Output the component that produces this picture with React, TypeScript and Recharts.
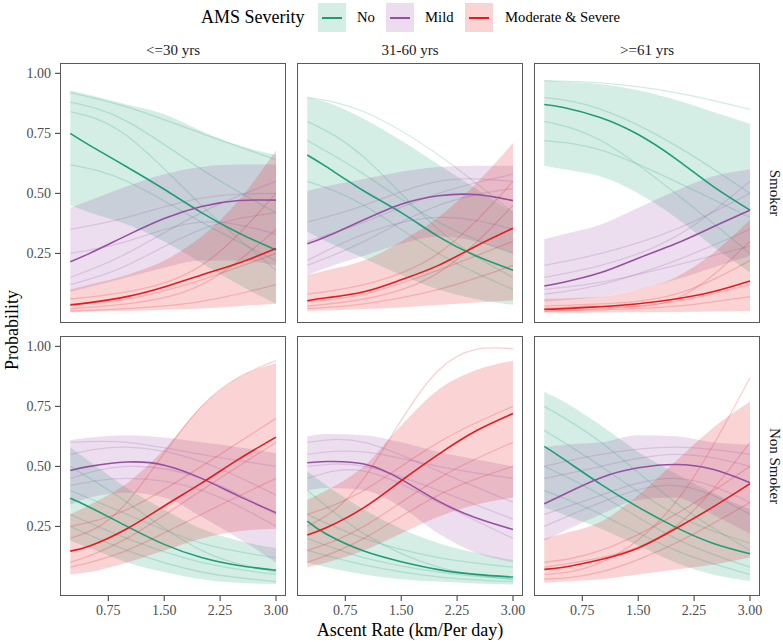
import { ComposedChart, Area, Line, XAxis, YAxis } from "recharts";

const FONT = "'Liberation Serif', 'Times New Roman', serif";

// x grid of the fitted curves; draws are read at every second point
const ascentRates = [0.24, 0.5, 1.0, 1.5, 2.0, 2.5, 3.0];
const drawRates = [0.24, 1.0, 2.0, 3.0];
const xTicks = [0.75, 1.5, 2.25, 3.0];
const yTicks = [0.25, 0.5, 0.75, 1.0];
const ageGroups = ["<=30 yrs", "31-60 yrs", ">=61 yrs"];
const smokingGroups = ["Smoker", "Non Smoker"];
const severityLabels = ["No", "Mild", "Moderate & Severe"];

// Smoker, <=30 yrs
const s30No = [0.75, 0.7, 0.61, 0.517, 0.42, 0.335, 0.264];
const s30NoLo = [0.45, 0.42, 0.37, 0.3, 0.21, 0.12, 0.04];
const s30NoHi = [0.93, 0.91, 0.87, 0.83, 0.76, 0.7, 0.66];
const s30Mild = [0.215, 0.25, 0.325, 0.395, 0.445, 0.47, 0.472];
const s30MildLo = [0.09, 0.11, 0.15, 0.19, 0.22, 0.22, 0.2];
const s30MildHi = [0.44, 0.47, 0.53, 0.58, 0.61, 0.62, 0.62];
const s30Mod = [0.035, 0.045, 0.07, 0.11, 0.16, 0.21, 0.27];
const s30ModLo = [0.005, 0.007, 0.01, 0.015, 0.02, 0.03, 0.04];
const s30ModHi = [0.1, 0.12, 0.16, 0.22, 0.32, 0.47, 0.68];
const s30NoDraws = [[0.92, 0.86, 0.75, 0.64], [0.84, 0.74, 0.45, 0.18], [0.62, 0.55, 0.38, 0.22], [0.88, 0.8, 0.6, 0.42]];
const s30MildDraws = [[0.15, 0.25, 0.42, 0.55], [0.35, 0.4, 0.48, 0.5], [0.12, 0.2, 0.35, 0.42], [0.25, 0.3, 0.38, 0.33]];
const s30ModDraws = [[0.02, 0.04, 0.12, 0.35], [0.06, 0.09, 0.2, 0.5], [0.01, 0.02, 0.05, 0.12], [0.04, 0.06, 0.14, 0.25]];

// Smoker, 31-60 yrs
const s60No = [0.66, 0.61, 0.51, 0.42, 0.32, 0.24, 0.18];
const s60NoLo = [0.34, 0.3, 0.23, 0.16, 0.1, 0.06, 0.035];
const s60NoHi = [0.9, 0.88, 0.81, 0.72, 0.62, 0.52, 0.42];
const s60Mild = [0.29, 0.32, 0.39, 0.455, 0.49, 0.495, 0.47];
const s60MildLo = [0.16, 0.19, 0.24, 0.29, 0.32, 0.3, 0.25];
const s60MildHi = [0.51, 0.53, 0.56, 0.59, 0.61, 0.615, 0.615];
const s60Mod = [0.053, 0.065, 0.09, 0.14, 0.2, 0.28, 0.355];
const s60ModLo = [0.01, 0.012, 0.018, 0.025, 0.035, 0.045, 0.055];
const s60ModHi = [0.16, 0.18, 0.22, 0.3, 0.4, 0.54, 0.71];
const s60NoDraws = [[0.9, 0.84, 0.66, 0.42], [0.8, 0.65, 0.35, 0.15], [0.55, 0.45, 0.25, 0.1], [0.72, 0.58, 0.38, 0.25]];
const s60MildDraws = [[0.2, 0.3, 0.45, 0.52], [0.38, 0.45, 0.55, 0.55], [0.22, 0.33, 0.4, 0.35], [0.3, 0.38, 0.5, 0.58]];
const s60ModDraws = [[0.03, 0.06, 0.17, 0.45], [0.08, 0.12, 0.25, 0.55], [0.02, 0.04, 0.1, 0.2], [0.05, 0.08, 0.18, 0.3]];

// Smoker, >=61 yrs
const s61No = [0.87, 0.858, 0.815, 0.745, 0.645, 0.53, 0.43];
const s61NoLo = [0.615, 0.6, 0.57, 0.5, 0.4, 0.28, 0.17];
const s61NoHi = [0.97, 0.965, 0.955, 0.93, 0.89, 0.84, 0.79];
const s61Mild = [0.114, 0.13, 0.17, 0.23, 0.29, 0.36, 0.43];
const s61MildLo = [0.05, 0.055, 0.07, 0.1, 0.14, 0.19, 0.24];
const s61MildHi = [0.31, 0.33, 0.37, 0.44, 0.51, 0.57, 0.6];
const s61Mod = [0.017, 0.02, 0.028, 0.04, 0.06, 0.09, 0.135];
const s61ModLo = [0.003, 0.003, 0.004, 0.005, 0.006, 0.008, 0.01];
const s61ModHi = [0.06, 0.062, 0.07, 0.1, 0.15, 0.25, 0.39];
const s61NoDraws = [[0.97, 0.96, 0.92, 0.85], [0.9, 0.85, 0.7, 0.5], [0.8, 0.72, 0.5, 0.25], [0.72, 0.68, 0.55, 0.4]];
const s61MildDraws = [[0.2, 0.25, 0.35, 0.5], [0.08, 0.12, 0.22, 0.35], [0.15, 0.2, 0.32, 0.55], [0.1, 0.13, 0.2, 0.28]];
const s61ModDraws = [[0.01, 0.02, 0.05, 0.12], [0.03, 0.04, 0.08, 0.22], [0.02, 0.03, 0.06, 0.3], [0.01, 0.015, 0.03, 0.07]];

// Non Smoker, <=30 yrs
const n30No = [0.367, 0.33, 0.25, 0.175, 0.12, 0.087, 0.067];
const n30NoLo = [0.19, 0.16, 0.1, 0.06, 0.03, 0.015, 0.01];
const n30NoHi = [0.58, 0.52, 0.41, 0.32, 0.24, 0.19, 0.16];
const n30Mild = [0.483, 0.5, 0.518, 0.505, 0.45, 0.376, 0.307];
const n30MildLo = [0.34, 0.37, 0.39, 0.37, 0.29, 0.2, 0.1];
const n30MildHi = [0.61, 0.62, 0.63, 0.62, 0.6, 0.58, 0.555];
const n30Mod = [0.147, 0.168, 0.24, 0.335, 0.43, 0.53, 0.622];
const n30ModLo = [0.05, 0.06, 0.1, 0.15, 0.2, 0.23, 0.24];
const n30ModHi = [0.3, 0.34, 0.43, 0.57, 0.75, 0.87, 0.93];
const n30NoDraws = [[0.5, 0.35, 0.15, 0.06], [0.3, 0.2, 0.1, 0.05], [0.4, 0.3, 0.18, 0.12], [0.25, 0.15, 0.06, 0.02]];
const n30MildDraws = [[0.55, 0.58, 0.52, 0.38], [0.42, 0.45, 0.4, 0.25], [0.6, 0.6, 0.55, 0.5], [0.45, 0.5, 0.45, 0.3]];
const n30ModDraws = [[0.2, 0.35, 0.75, 0.94], [0.1, 0.2, 0.4, 0.6], [0.25, 0.32, 0.5, 0.7], [0.08, 0.15, 0.3, 0.45]];

// Non Smoker, 31-60 yrs
const n60No = [0.272, 0.217, 0.147, 0.103, 0.07, 0.05, 0.039];
const n60NoLo = [0.1, 0.08, 0.05, 0.03, 0.02, 0.012, 0.008];
const n60NoHi = [0.48, 0.42, 0.32, 0.24, 0.18, 0.14, 0.11];
const n60Mild = [0.515, 0.52, 0.51, 0.446, 0.355, 0.286, 0.237];
const n60MildLo = [0.4, 0.41, 0.4, 0.33, 0.22, 0.14, 0.1];
const n60MildHi = [0.625, 0.635, 0.63, 0.6, 0.56, 0.53, 0.5];
const n60Mod = [0.214, 0.245, 0.328, 0.44, 0.55, 0.647, 0.72];
const n60ModLo = [0.08, 0.1, 0.15, 0.22, 0.29, 0.34, 0.37];
const n60ModHi = [0.36, 0.4, 0.5, 0.67, 0.82, 0.9, 0.94];
const n60NoDraws = [[0.4, 0.22, 0.08, 0.03], [0.2, 0.12, 0.06, 0.03], [0.3, 0.2, 0.12, 0.08], [0.15, 0.09, 0.04, 0.02]];
const n60MildDraws = [[0.6, 0.6, 0.48, 0.35], [0.45, 0.48, 0.35, 0.2], [0.55, 0.56, 0.5, 0.45], [0.5, 0.5, 0.4, 0.28]];
const n60ModDraws = [[0.25, 0.45, 0.9, 0.99], [0.15, 0.25, 0.45, 0.6], [0.3, 0.4, 0.6, 0.75], [0.1, 0.2, 0.38, 0.5]];

// Non Smoker, >=61 yrs
const n61No = [0.583, 0.53, 0.425, 0.33, 0.247, 0.18, 0.136];
const n61NoLo = [0.33, 0.3, 0.24, 0.17, 0.1, 0.05, 0.022];
const n61NoHi = [0.81, 0.77, 0.67, 0.56, 0.47, 0.39, 0.32];
const n61Mild = [0.344, 0.383, 0.453, 0.494, 0.508, 0.488, 0.432];
const n61MildLo = [0.19, 0.23, 0.3, 0.36, 0.37, 0.3, 0.22];
const n61MildHi = [0.58, 0.59, 0.6, 0.63, 0.625, 0.6, 0.59];
const n61Mod = [0.071, 0.08, 0.112, 0.16, 0.24, 0.33, 0.428];
const n61ModLo = [0.015, 0.02, 0.03, 0.05, 0.07, 0.09, 0.12];
const n61ModHi = [0.2, 0.22, 0.27, 0.38, 0.52, 0.66, 0.77];
const n61NoDraws = [[0.75, 0.6, 0.35, 0.15], [0.5, 0.38, 0.2, 0.08], [0.65, 0.5, 0.3, 0.18], [0.4, 0.3, 0.15, 0.05]];
const n61MildDraws = [[0.45, 0.5, 0.55, 0.5], [0.3, 0.38, 0.45, 0.35], [0.5, 0.55, 0.58, 0.55], [0.25, 0.35, 0.42, 0.3]];
const n61ModDraws = [[0.05, 0.1, 0.35, 0.87], [0.1, 0.15, 0.3, 0.5], [0.03, 0.06, 0.18, 0.35], [0.08, 0.12, 0.25, 0.6]];

const COLORS = ["#1B9E77", "#984EA3", "#E41A1C"];
const BAND_OPACITY = 0.19;

const PANEL_LEFT = [60, 297, 534];
const PANEL_TOP = [63, 336];
const PANEL_W = 226;
const PANEL_H = 260;
const Y_AXIS_W = 53;
const X_AXIS_H = 30;
const RIGHT_PAD = 16;
const X_DOMAIN = [0.102, 3.134];
const Y_DOMAIN = [-0.04, 1.043];

type Series = { mid: number[]; lo: number[]; hi: number[]; draws: number[][] };

const panels: { row: number; col: number; series: Series[] }[] = [
  { row: 0, col: 0, series: [
    { mid: s30No, lo: s30NoLo, hi: s30NoHi, draws: s30NoDraws },
    { mid: s30Mild, lo: s30MildLo, hi: s30MildHi, draws: s30MildDraws },
    { mid: s30Mod, lo: s30ModLo, hi: s30ModHi, draws: s30ModDraws },
  ] },
  { row: 0, col: 1, series: [
    { mid: s60No, lo: s60NoLo, hi: s60NoHi, draws: s60NoDraws },
    { mid: s60Mild, lo: s60MildLo, hi: s60MildHi, draws: s60MildDraws },
    { mid: s60Mod, lo: s60ModLo, hi: s60ModHi, draws: s60ModDraws },
  ] },
  { row: 0, col: 2, series: [
    { mid: s61No, lo: s61NoLo, hi: s61NoHi, draws: s61NoDraws },
    { mid: s61Mild, lo: s61MildLo, hi: s61MildHi, draws: s61MildDraws },
    { mid: s61Mod, lo: s61ModLo, hi: s61ModHi, draws: s61ModDraws },
  ] },
  { row: 1, col: 0, series: [
    { mid: n30No, lo: n30NoLo, hi: n30NoHi, draws: n30NoDraws },
    { mid: n30Mild, lo: n30MildLo, hi: n30MildHi, draws: n30MildDraws },
    { mid: n30Mod, lo: n30ModLo, hi: n30ModHi, draws: n30ModDraws },
  ] },
  { row: 1, col: 1, series: [
    { mid: n60No, lo: n60NoLo, hi: n60NoHi, draws: n60NoDraws },
    { mid: n60Mild, lo: n60MildLo, hi: n60MildHi, draws: n60MildDraws },
    { mid: n60Mod, lo: n60ModLo, hi: n60ModHi, draws: n60ModDraws },
  ] },
  { row: 1, col: 2, series: [
    { mid: n61No, lo: n61NoLo, hi: n61NoHi, draws: n61NoDraws },
    { mid: n61Mild, lo: n61MildLo, hi: n61MildHi, draws: n61MildDraws },
    { mid: n61Mod, lo: n61ModLo, hi: n61ModHi, draws: n61ModDraws },
  ] },
];

function buildRows(series: Series[]) {
  return ascentRates.map((x, i) => {
    const row: any = { x };
    series.forEach((s, k) => {
      row[`mid${k}`] = s.mid[i];
      row[`band${k}`] = [s.lo[i], s.hi[i]];
      const j = drawRates.indexOf(x);
      s.draws.forEach((d, m) => {
        row[`draw${k}_${m}`] = j >= 0 ? d[j] : null;
      });
    });
    return row;
  });
}

const XTick = (props: any) => (
  <text x={props.x} y={props.y} dy={12} textAnchor="middle" fill="#4d4d4d" style={{ fontFamily: FONT, fontSize: 14 }}>
    {Number(props.payload.value).toFixed(2)}
  </text>
);

const YTick = (props: any) => (
  <text x={props.x} y={props.y} dy={5} textAnchor="end" fill="#4d4d4d" style={{ fontFamily: FONT, fontSize: 14 }}>
    {Number(props.payload.value).toFixed(2)}
  </text>
);

function Panel({ row, col, series }: { row: number; col: number; series: Series[] }) {
  const showY = col === 0;
  const showX = row === 1;
  const data = buildRows(series);
  const left = PANEL_LEFT[col] - (showY ? Y_AXIS_W : 0);
  return (
    <>
      <div style={{ position: "absolute", left, top: PANEL_TOP[row], fontFamily: FONT }}>
        <ComposedChart
          width={PANEL_W + (showY ? Y_AXIS_W : 0) + RIGHT_PAD}
          height={PANEL_H + (showX ? X_AXIS_H : 0)}
          data={data}
          margin={{ top: 0, right: RIGHT_PAD, bottom: 0, left: 0 }}
        >
          <XAxis
            type="number"
            dataKey="x"
            domain={X_DOMAIN}
            ticks={xTicks}
            interval={0}
            allowDataOverflow
            hide={!showX}
            height={X_AXIS_H}
            tickSize={5}
            axisLine={false}
            tickLine={{ stroke: "#333" }}
            tick={XTick}
          />
          <YAxis
            type="number"
            domain={Y_DOMAIN}
            ticks={yTicks}
            interval={0}
            allowDataOverflow
            hide={!showY}
            width={Y_AXIS_W}
            tickSize={5}
            tickMargin={4}
            axisLine={false}
            tickLine={{ stroke: "#333" }}
            tick={YTick}
          />
          {series.map((_, k) => (
            <Area
              key={`band${k}`}
              dataKey={`band${k}`}
              type="monotone"
              fill={COLORS[k]}
              fillOpacity={BAND_OPACITY}
              stroke="none"
              activeDot={false}
              isAnimationActive={false}
            />
          ))}
          {series.map((s, k) =>
            s.draws.map((_, m) => (
              <Line
                key={`draw${k}_${m}`}
                dataKey={`draw${k}_${m}`}
                type="natural"
                connectNulls
                stroke={COLORS[k]}
                strokeOpacity={0.2}
                strokeWidth={1.3}
                dot={false}
                activeDot={false}
                isAnimationActive={false}
              />
            ))
          )}
          {series.map((_, k) => (
            <Line
              key={`mid${k}`}
              dataKey={`mid${k}`}
              type="natural"
              stroke={COLORS[k]}
              strokeWidth={1.6}
              dot={false}
              activeDot={false}
              isAnimationActive={false}
            />
          ))}
        </ComposedChart>
      </div>
      <div
        style={{
          position: "absolute",
          left: PANEL_LEFT[col],
          top: PANEL_TOP[row],
          width: PANEL_W,
          height: PANEL_H,
          border: "1px solid #5a5a5a",
          boxSizing: "border-box",
          pointerEvents: "none",
        }}
      />
    </>
  );
}

function LegendKey({ left, color }: { left: number; color: string }) {
  return (
    <div style={{ position: "absolute", left, top: 3, width: 28, height: 29, background: color }}>
      <div style={{ position: "absolute", inset: 0, background: "white", opacity: 1 - BAND_OPACITY }} />
      <div style={{ position: "absolute", left: 4, top: 13.5, width: 20, height: 2, background: color }} />
    </div>
  );
}

export default function App() {
  const text = (s: any) => ({ position: "absolute" as const, fontFamily: FONT, whiteSpace: "nowrap" as const, ...s });
  return (
    <div style={{ position: "absolute", left: 0, top: 0, width: 783, height: 643, background: "white", overflow: "hidden", fontFamily: FONT }}>
      {/* legend */}
      <div style={text({ left: 201, top: 5, fontSize: 18, lineHeight: "24px", color: "#000" })}>AMS Severity</div>
      {[318, 386, 465].map((l, k) => (
        <LegendKey key={k} left={l} color={COLORS[k]} />
      ))}
      {[357, 425, 505].map((l, k) => (
        <div key={k} style={text({ left: l, top: 7, fontSize: 14.7, lineHeight: "20px", color: "#000" })}>
          {severityLabels[k]}
        </div>
      ))}

      {/* column strips */}
      {ageGroups.map((g, c) => (
        <div
          key={g}
          style={text({ left: PANEL_LEFT[c], width: PANEL_W, top: 40, textAlign: "center", fontSize: 15, lineHeight: "20px", color: "#1a1a1a" })}
        >
          {g}
        </div>
      ))}

      {/* row strips */}
      {smokingGroups.map((g, r) => (
        <div
          key={g}
          style={text({
            left: 775 - 70,
            width: 140,
            top: PANEL_TOP[r] + PANEL_H / 2 - 10,
            lineHeight: "20px",
            textAlign: "center",
            fontSize: 15,
            color: "#1a1a1a",
            transform: "rotate(90deg)",
          })}
        >
          {g}
        </div>
      ))}

      {panels.map((p, i) => (
        <Panel key={i} row={p.row} col={p.col} series={p.series} />
      ))}

      {/* axis titles */}
      <div style={text({ left: 12 - 80, width: 160, top: 330 - 12, lineHeight: "24px", textAlign: "center", fontSize: 18, transform: "rotate(-90deg)" })}>
        Probability
      </div>
      <div style={text({ left: 410 - 150, width: 300, top: 618, lineHeight: "24px", textAlign: "center", fontSize: 18 })}>
        Ascent Rate (km/Per day)
      </div>
    </div>
  );
}
